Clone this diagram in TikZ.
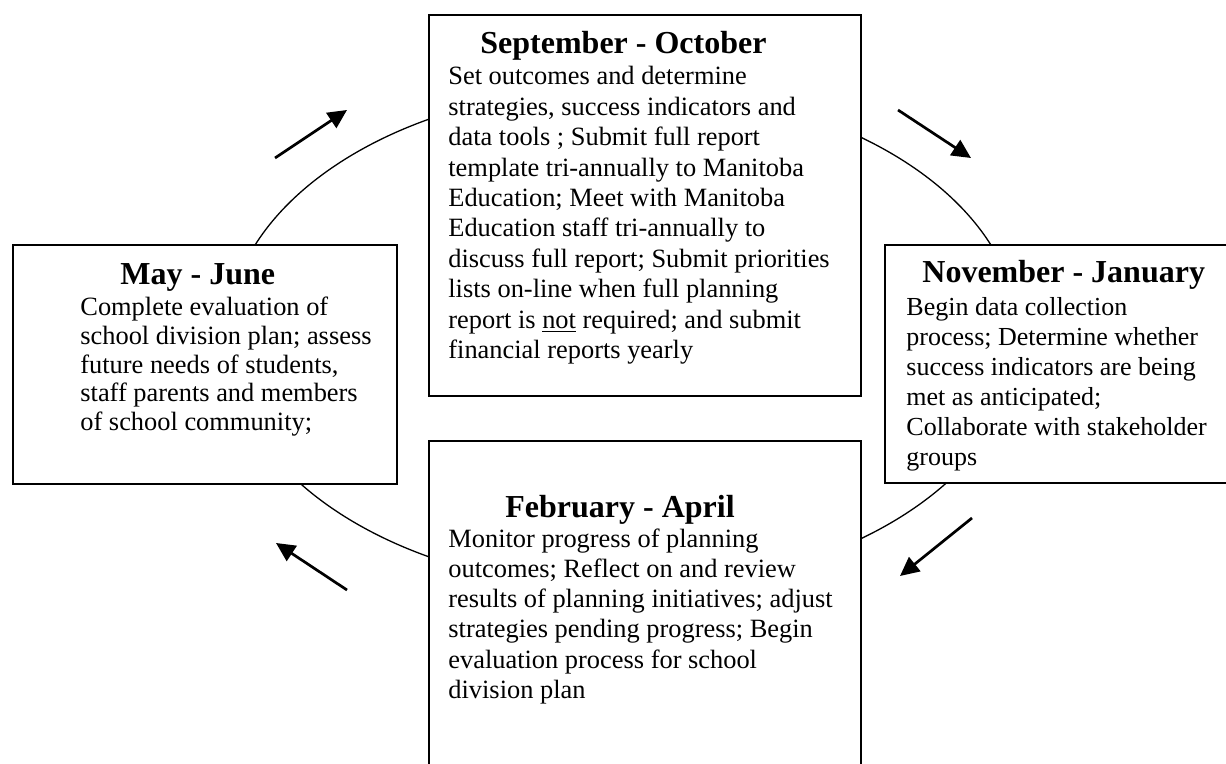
\documentclass[tikz,border=0pt]{standalone}
\usepackage{fontspec}
\setmainfont{Liberation Serif}
\usetikzlibrary{arrows.meta}
\newcommand\cyclebody[1]{\fontsize{13.2}{#1}\selectfont\raggedright}
\begin{document}
\begin{tikzpicture}[x=0.5pt,y=-0.5pt,
  box/.style={draw,line width=1pt,fill=white,rectangle,inner sep=0pt,anchor=north west},
  head/.style={anchor=base west,inner sep=0pt,font=\fontsize{16}{19}\selectfont\bfseries},
  body/.style={anchor=base west,inner sep=0pt},
  flow/.style={line width=1.35pt,-{Triangle[length=9.5pt,width=9pt]}},
  cyc/.style={line width=0.65pt}]
\useasboundingbox (0,0) rectangle (1226,764);
\clip (0,0) rectangle (1226,764);
% cycle ellipse
\draw[cyc] (623,338) ellipse [x radius=198pt, y radius=125.5pt];
% boxes
\node[box,minimum width=216pt,minimum height=190.5pt] (sepoct) at (428,14) {};
\node[box,minimum width=192pt,minimum height=119.5pt] (mayjun) at (12,244) {};
\node[box,minimum width=185pt,minimum height=119pt] (novjan) at (884,244) {};
\node[box,minimum width=216pt,minimum height=175pt] (febapr) at (428,440) {};
% headings
\node[head] (h1) at (480,54) {September - October};
\node[head] (h2) at (120,285) {May - June};
\node[head] (h3) at (922,283) {November - January};
\node[head] (h4) at (505,517) {February - April};
% bodies
\node[body] (b1) at (448,85) {\parbox[t]{250pt}{\cyclebody{15.2pt}Set outcomes and determine\\
strategies, success indicators and\\
data tools ; Submit full report\\
template tri-annually to Manitoba\\
Education; Meet with Manitoba\\
Education staff tri-annually to\\
discuss full report; Submit priorities\\
lists on-line when full planning\\
report is \underline{not} required; and submit\\
financial reports yearly}};
\node[body] (b2) at (80,316) {\parbox[t]{250pt}{\cyclebody{14.3pt}Complete evaluation of\\
school division plan; assess\\
future needs of students,\\
staff parents and members\\
of school community;}};
\node[body] (b3) at (906,316) {\parbox[t]{250pt}{\fontsize{13}{15}\selectfont\raggedright Begin data collection\\
process; Determine whether\\
success indicators are being\\
met as anticipated;\\
Collaborate with stakeholder\\
groups}};
\node[body] (b4) at (448,547) {\parbox[t]{250pt}{\cyclebody{15.15pt}Monitor progress of planning\\
outcomes; Reflect on and review\\
results of planning initiatives; adjust\\
strategies pending progress; Begin\\
evaluation process for school\\
division plan}};
% arrows
\coordinate (a1s) at (275,158); \coordinate (a1e) at (347,110);
\coordinate (a2s) at (898,110); \coordinate (a2e) at (971,158);
\coordinate (a3s) at (972,518); \coordinate (a3e) at (900,576);
\coordinate (a4s) at (347,590); \coordinate (a4e) at (276,543);
\draw[flow] (a1s) -- (a1e);
\draw[flow] (a2s) -- (a2e);
\draw[flow] (a3s) -- (a3e);
\draw[flow] (a4s) -- (a4e);
\end{tikzpicture}
\end{document}
